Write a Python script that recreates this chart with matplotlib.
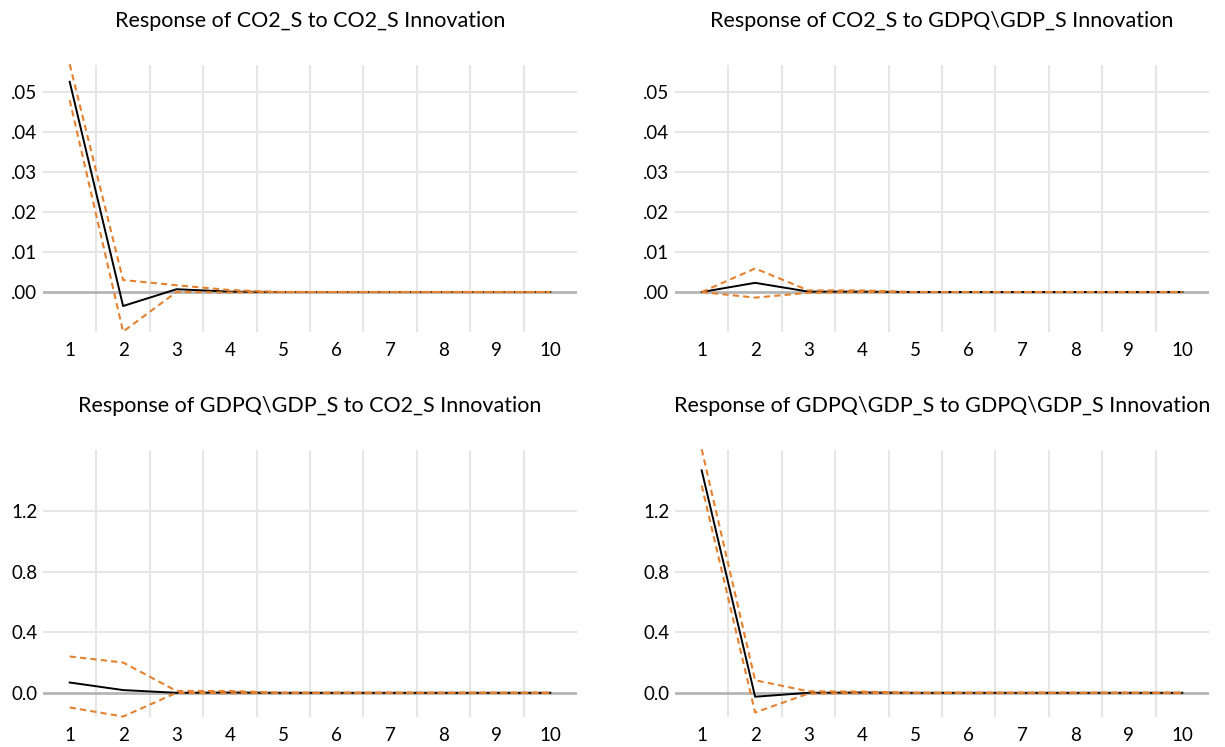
import matplotlib
matplotlib.use("Agg")
import matplotlib.pyplot as plt

plt.rcParams['font.family'] = ['Lato', 'DejaVu Sans']

periods = [1, 2, 3, 4, 5, 6, 7, 8, 9, 10]

titles = [
    "Response of CO2_S to CO2_S Innovation",
    "Response of CO2_S to GDPQ\\GDP_S Innovation",
    "Response of GDPQ\\GDP_S to CO2_S Innovation",
    "Response of GDPQ\\GDP_S to GDPQ\\GDP_S Innovation",
]

# Impulse responses (point estimates)
resp_co2_co2 = [0.0526, -0.0035, 0.0007, 0.0001, 0.0, 0.0, 0.0, 0.0, 0.0, 0.0]
resp_co2_gdp = [0.0, 0.0023, 0.0001, 0.0001, 0.0, 0.0, 0.0, 0.0, 0.0, 0.0]
resp_gdp_co2 = [0.068, 0.018, 0.0, 0.002, 0.0, 0.0, 0.0, 0.0, 0.0, 0.0]
resp_gdp_gdp = [1.47, -0.026, 0.0, 0.002, 0.0, 0.0, 0.0, 0.0, 0.0, 0.0]

# Upper bands
up_co2_co2 = [0.057, 0.0030, 0.0017, 0.0005, 0.0, 0.0, 0.0, 0.0, 0.0, 0.0]
up_co2_gdp = [0.0, 0.0059, 0.0004, 0.0004, 0.0, 0.0, 0.0, 0.0, 0.0, 0.0]
up_gdp_co2 = [0.24, 0.20, 0.012, 0.012, 0.0, 0.0, 0.0, 0.0, 0.0, 0.0]
up_gdp_gdp = [1.61, 0.083, 0.01, 0.008, 0.0, 0.0, 0.0, 0.0, 0.0, 0.0]

# Lower bands
lo_co2_co2 = [0.048, -0.0099, 0.0, -0.0001, 0.0, 0.0, 0.0, 0.0, 0.0, 0.0]
lo_co2_gdp = [0.0, -0.0014, -0.0002, 0.0, 0.0, 0.0, 0.0, 0.0, 0.0, 0.0]
lo_gdp_co2 = [-0.097, -0.157, 0.0, -0.003, 0.0, 0.0, 0.0, 0.0, 0.0, 0.0]
lo_gdp_gdp = [1.37, -0.13, -0.005, -0.002, 0.0, 0.0, 0.0, 0.0, 0.0, 0.0]

top_yticks = [0.0, 0.01, 0.02, 0.03, 0.04, 0.05]
top_yticklabels = [".00", ".01", ".02", ".03", ".04", ".05"]
bot_yticks = [0.0, 0.4, 0.8, 1.2]
bot_yticklabels = ["0.0", "0.4", "0.8", "1.2"]

panels = [
    (resp_co2_co2, up_co2_co2, lo_co2_co2, top_yticks, top_yticklabels, (-0.0100, 0.0568)),
    (resp_co2_gdp, up_co2_gdp, lo_co2_gdp, top_yticks, top_yticklabels, (-0.0100, 0.0568)),
    (resp_gdp_co2, up_gdp_co2, lo_gdp_co2, bot_yticks, bot_yticklabels, (-0.160, 1.605)),
    (resp_gdp_gdp, up_gdp_gdp, lo_gdp_gdp, bot_yticks, bot_yticklabels, (-0.160, 1.605)),
]

W, H = 1225, 747
boxes = [
    (43, 65, 577, 332),
    (675, 65, 1209, 332),
    (43, 450, 577, 717),
    (675, 450, 1209, 717),
]

fig = plt.figure(figsize=(W / 100, H / 100), dpi=100)
orange = '#E5812F'

for (resp, up, lo, yt, ytl, ylim), (l, t, r, b), title in zip(panels, boxes, titles):
    ax = fig.add_axes([l / W, (H - b) / H, (r - l) / W, (b - t) / H])
    ax.set_xlim(0.5, 10.5)
    ax.set_ylim(*ylim)
    for s in ax.spines.values():
        s.set_visible(False)
    for x in [1.5, 2.5, 3.5, 4.5, 5.5, 6.5, 7.5, 8.5, 9.5]:
        ax.axvline(x, color='#e6e6e6', lw=1.5, zorder=0)
    for y in yt[1:]:
        ax.axhline(y, color='#e6e6e6', lw=1.5, zorder=0)
    ax.axhline(0, color='#b5b5b5', lw=2, zorder=1)
    ax.plot(periods, up, color=orange, lw=1.5, ls=(0, (3, 2)), zorder=3, clip_on=False)
    ax.plot(periods, lo, color=orange, lw=1.5, ls=(0, (3, 2)), zorder=3, clip_on=False)
    ax.plot(periods, resp, color='black', lw=1.4, zorder=2)
    ax.set_xticks(periods)
    ax.set_xticklabels([str(p) for p in periods])
    ax.set_yticks(yt)
    ax.set_yticklabels(ytl)
    ax.tick_params(length=0, labelsize=13.5, pad=7)
    ax.tick_params(axis='y', pad=4)
    fig.text(((l + r) / 2) / W, (H - (t - 44)) / H, title,
             ha='center', va='center', fontsize=15.5)

fig.savefig("out.png", dpi=100)
